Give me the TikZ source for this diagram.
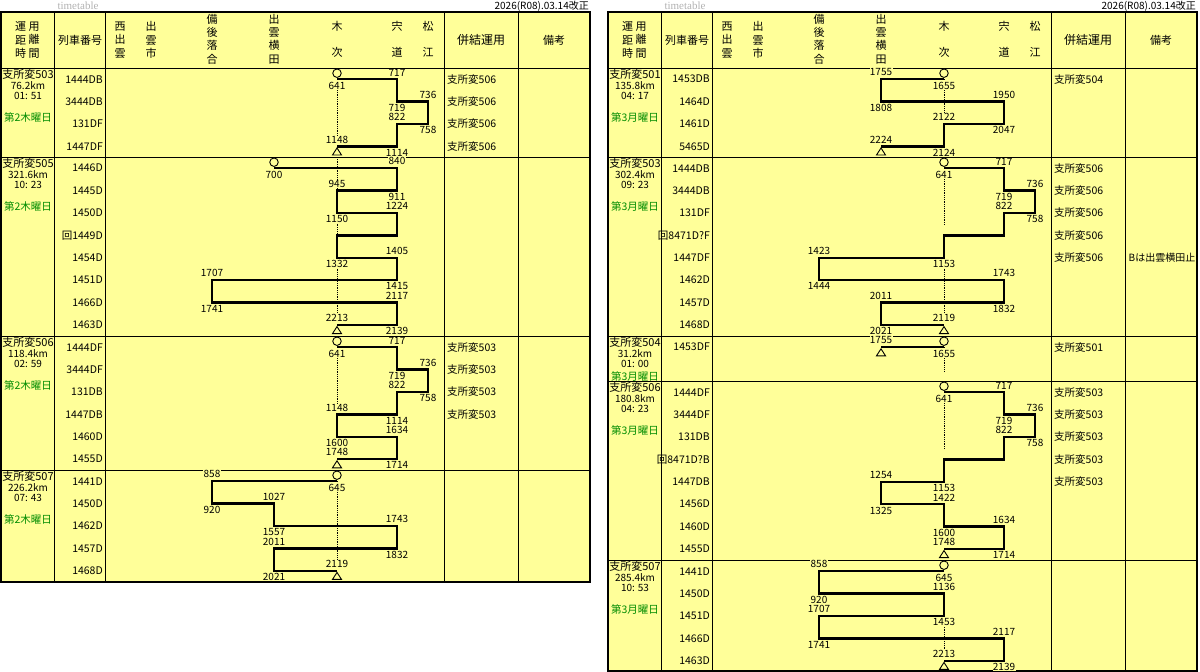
\documentclass[tikz,border=0pt]{standalone}
\usepackage{fontspec}
\setmainfont{Noto Sans CJK JP}
\newfontfamily\serif{Liberation Serif}

\definecolor{bg}{HTML}{FFFF99}
\definecolor{grn}{RGB}{0,140,0}

% station columns (left panel)
\def\BO{212}
\def\YO{274}
\def\KI{337}
\def\SJ{397}
\def\MA{428}

\tikzset{
  route/.style={line width=2.4pt},
  depot/.style={densely dotted, line width=0.8pt},
  tm/.style={font=\fontsize{10}{11}\selectfont, inner sep=0.4pt, fill=bg},
  trno/.style={font=\fontsize{10.5}{12}\selectfont, anchor=east, inner sep=0pt},
  pair/.style={font=\fontsize{10.5}{12}\selectfont, anchor=west, inner sep=0pt},
  unit/.style={font=\fontsize{11}{12}\selectfont, inner sep=0pt},
  small/.style={font=\fontsize{10}{11}\selectfont, inner sep=0pt},
  day/.style={font=\fontsize{10.5}{12}\selectfont, text=grn, inner sep=0pt},
  head/.style={font=\fontsize{11}{13.4}\selectfont, align=center, inner sep=0pt},
  grid/.style={line width=1pt},
  mk/.style={line width=0.9pt, fill=bg},
}

% one leg: row, from, to, departure, arrival
\newcommand{\leg}[5]{%
  \node[tm,below=2pt] at (#2,#1) {#4};
  \node[tm,above=2.5pt] at (#3,#1) {#5};}
\newcommand{\startmark}[1]{\node[mk,draw,circle,minimum size=8.5pt,inner sep=0pt,above=1.3pt] at (#1,.5) {};}
\newcommand{\stopmark}[2]{\draw[mk] (#1,#2) ++(0pt,-1.6pt) -- ++(-4.5pt,-7pt) -- ++(9pt,0pt) -- cycle;}
% unit name, km, time, day, row of day
\newcommand{\unitinfo}[5]{%
  \node[unit] at (28,.27) {#1};
  \node[small] at (28,.78) {#2};
  \node[small] at (28,1.26) {#3};
  \node[day] at (28,#5) {#4};}
% frame: bottom, separators
\newcommand{\panelframe}[2]{%
  \fill[bg] (1,12) rectangle (590,#1);
  \foreach \y in {#2} \draw[grid] (1,\y) -- (590,\y);
  \foreach \x in {54,105,444,518} \draw[grid] (\x,12) -- (\x,#1);
  \draw[line width=1.4pt] (1,12) rectangle (590,#1);
  \node[head] at (20.5,40) {運\\距\\時};
  \node[head] at (34,40) {用\\離\\間};
  \node[head] at (80,40) {列車番号};
  \node[head] at (120,40) {西\\出\\雲};
  \node[head] at (151,40) {出\\雲\\市};
  \node[head] at (212,39) {備\\後\\落\\合};
  \node[head] at (274,39) {出\\雲\\横\\田};
  \node[head] at (\KI,39) {木\\[12.6pt]次};
  \node[head] at (\SJ,39) {宍\\[12.6pt]道};
  \node[head] at (\MA,39) {松\\[12.6pt]江};
  \node[head, font=\fontsize{12}{13.4}\selectfont] at (481,40) {併結運用};
  \node[head] at (554,40) {備考};
  \node[font=\serif\fontsize{11}{12}\selectfont, text=gray!60, inner sep=0pt] at (78,6) {timetable};
  \node[font=\fontsize{10}{12}\selectfont, anchor=east, inner sep=0pt] at (589,6) {2026(R08).03.14改正};}

\begin{document}
\begin{tikzpicture}[x=1pt,y=-1pt]
\useasboundingbox (0,0) rectangle (1200,672);

% ===== left panel =====
\panelframe{582}{68,157,336,470}

% 支所変503
\begin{scope}[yshift=-68pt,y=-22.4pt]
  \unitinfo{支所変503}{76.2km}{01: 51}{第2木曜日}{2.23}
  \foreach \n [count=\i] in {1444DB,3444DB,131DF,1447DF}
    \node[trno] at (103,\i-.5) {\n};
  \foreach \i in {0,...,3} \node[pair] at (447,\i+.5) {支所変506};
  \draw[depot] (\KI,.5) -- (\KI,3);
  \leg{.5}{\KI}{\SJ}{641}{717}
  \leg{1.5}{\SJ}{\MA}{719}{736}
  \leg{2.5}{\MA}{\SJ}{758}{822}
  \leg{3.5}{\SJ}{\KI}{1114}{1148}
  \draw[route] (\KI,.5) -| (\SJ,1.5) -| (\MA,2.5) -| (\SJ,3.5) -- (\KI,3.5);
  \startmark{\KI}
  \stopmark{\KI}{3.5}
\end{scope}

% 支所変505
\begin{scope}[yshift=-157pt,y=-22.4pt]
  \unitinfo{支所変505}{321.6km}{10: 23}{第2木曜日}{2.23}
  \foreach \n [count=\i] in {1446D,1445D,1450D,回1449D,1454D,1451D,1466D,1463D}
    \node[trno] at (103,\i-.5) {\n};
  \draw[depot] (\KI,0) -- (\KI,7);
  \leg{.5}{\YO}{\SJ}{700}{840}
  \leg{1.5}{\SJ}{\KI}{911}{945}
  \leg{2.5}{\KI}{\SJ}{1150}{1224}
  \leg{4.5}{\KI}{\SJ}{1332}{1405}
  \leg{5.5}{\SJ}{\BO}{1415}{1707}
  \leg{6.5}{\BO}{\SJ}{1741}{2117}
  \leg{7.5}{\SJ}{\KI}{2139}{2213}
  \draw[route] (\YO,.5) -| (\SJ,1.5) -| (\KI,2.5) -| (\SJ,3.5) -| (\KI,4.5)
    -| (\SJ,5.5) -| (\BO,6.5) -| (\SJ,7.5) -- (\KI,7.5);
  \startmark{\YO}
  \stopmark{\KI}{7.5}
\end{scope}

% 支所変506
\begin{scope}[yshift=-336pt,y=-22.4pt]
  \unitinfo{支所変506}{118.4km}{02: 59}{第2木曜日}{2.23}
  \foreach \n [count=\i] in {1444DF,3444DF,131DB,1447DB,1460D,1455D}
    \node[trno] at (103,\i-.5) {\n};
  \foreach \i in {0,...,3} \node[pair] at (447,\i+.5) {支所変503};
  \draw[depot] (\KI,.5) -- (\KI,3);
  \leg{.5}{\KI}{\SJ}{641}{717}
  \leg{1.5}{\SJ}{\MA}{719}{736}
  \leg{2.5}{\MA}{\SJ}{758}{822}
  \leg{3.5}{\SJ}{\KI}{1114}{1148}
  \leg{4.5}{\KI}{\SJ}{1600}{1634}
  \leg{5.5}{\SJ}{\KI}{1714}{1748}
  \draw[route] (\KI,.5) -| (\SJ,1.5) -| (\MA,2.5) -| (\SJ,3.5) -| (\KI,4.5)
    -| (\SJ,5.5) -- (\KI,5.5);
  \startmark{\KI}
  \stopmark{\KI}{5.5}
\end{scope}

% 支所変507
\begin{scope}[yshift=-470pt,y=-22.4pt]
  \unitinfo{支所変507}{226.2km}{07: 43}{第2木曜日}{2.23}
  \foreach \n [count=\i] in {1441D,1450D,1462D,1457D,1468D}
    \node[trno] at (103,\i-.5) {\n};
  \draw[depot] (\KI,.5) -- (\KI,4);
  \leg{.5}{\KI}{\BO}{645}{858}
  \leg{1.5}{\BO}{\YO}{920}{1027}
  \leg{2.5}{\YO}{\SJ}{1557}{1743}
  \leg{3.5}{\SJ}{\YO}{1832}{2011}
  \leg{4.5}{\YO}{\KI}{2021}{2119}
  \draw[route] (\KI,.5) -| (\BO,1.5) -| (\YO,2.5) -| (\SJ,3.5) -| (\YO,4.5) -- (\KI,4.5);
  \startmark{\KI}
  \stopmark{\KI}{4.5}
\end{scope}

% ===== right panel =====
\begin{scope}[xshift=607pt]
\panelframe{671}{68,157,336,381,560}

% 支所変501
\begin{scope}[yshift=-68pt,y=-22.4pt]
  \unitinfo{支所変501}{135.8km}{04: 17}{第3月曜日}{2.23}
  \foreach \n [count=\i] in {1453DB,1464D,1461D,5465D}
    \node[trno] at (103,\i-.5) {\n};
  \node[pair] at (447,.5) {支所変504};
  \draw[depot] (\KI,.5) -- (\KI,2);
  \leg{.5}{\KI}{\YO}{1655}{1755}
  \leg{1.5}{\YO}{\SJ}{1808}{1950}
  \leg{2.5}{\SJ}{\KI}{2047}{2122}
  \leg{3.5}{\KI}{\YO}{2124}{2224}
  \draw[route] (\KI,.5) -| (\YO,1.5) -| (\SJ,2.5) -| (\KI,3.5) -- (\YO,3.5);
  \startmark{\KI}
  \stopmark{\YO}{3.5}
\end{scope}

% 支所変503
\begin{scope}[yshift=-157pt,y=-22.4pt]
  \unitinfo{支所変503}{302.4km}{09: 23}{第3月曜日}{2.23}
  \foreach \n [count=\i] in {1444DB,3444DB,131DF,回8471D?F,1447DF,1462D,1457D,1468D}
    \node[trno] at (103,\i-.5) {\n};
  \foreach \i in {0,...,4} \node[pair] at (447,\i+.5) {支所変506};
  \node[small] at (555,4.5) {Bは出雲横田止};
  \draw[depot] (\KI,.5) -- (\KI,3) (\KI,4.5) -- (\KI,7);
  \leg{.5}{\KI}{\SJ}{641}{717}
  \leg{1.5}{\SJ}{\MA}{719}{736}
  \leg{2.5}{\MA}{\SJ}{758}{822}
  \leg{4.5}{\KI}{\BO}{1153}{1423}
  \leg{5.5}{\BO}{\SJ}{1444}{1743}
  \leg{6.5}{\SJ}{\YO}{1832}{2011}
  \leg{7.5}{\YO}{\KI}{2021}{2119}
  \draw[route] (\KI,.5) -| (\SJ,1.5) -| (\MA,2.5) -| (\SJ,3.5) -| (\KI,4.5)
    -| (\BO,5.5) -| (\SJ,6.5) -| (\YO,7.5) -- (\KI,7.5);
  \startmark{\KI}
  \stopmark{\KI}{7.5}
\end{scope}

% 支所変504
\begin{scope}[yshift=-336pt,y=-22.4pt]
  \unitinfo{支所変504}{31.2km}{01: 00}{第3月曜日}{1.79}
  \node[trno] at (103,.5) {1453DF};
  \node[pair] at (447,.5) {支所変501};
  \draw[depot] (\KI,.5) -- (\KI,1.6);
  \leg{.5}{\KI}{\YO}{1655}{1755}
  \draw[route] (\KI,.5) -- (\YO,.5);
  \startmark{\KI}
  \stopmark{\YO}{.5}
\end{scope}

% 支所変506
\begin{scope}[yshift=-381pt,y=-22.4pt]
  \unitinfo{支所変506}{180.8km}{04: 23}{第3月曜日}{2.23}
  \foreach \n [count=\i] in {1444DF,3444DF,131DB,回8471D?B,1447DB,1456D,1460D,1455D}
    \node[trno] at (103,\i-.5) {\n};
  \foreach \i in {0,...,4} \node[pair] at (447,\i+.5) {支所変503};
  \draw[depot] (\KI,.5) -- (\KI,3);
  \leg{.5}{\KI}{\SJ}{641}{717}
  \leg{1.5}{\SJ}{\MA}{719}{736}
  \leg{2.5}{\MA}{\SJ}{758}{822}
  \leg{4.5}{\KI}{\YO}{1153}{1254}
  \leg{5.5}{\YO}{\KI}{1325}{1422}
  \leg{6.5}{\KI}{\SJ}{1600}{1634}
  \leg{7.5}{\SJ}{\KI}{1714}{1748}
  \draw[route] (\KI,.5) -| (\SJ,1.5) -| (\MA,2.5) -| (\SJ,3.5) -| (\KI,4.5)
    -| (\YO,5.5) -| (\KI,6.5) -| (\SJ,7.5) -- (\KI,7.5);
  \startmark{\KI}
  \stopmark{\KI}{7.5}
\end{scope}

% 支所変507
\begin{scope}[yshift=-560pt,y=-22.4pt]
  \unitinfo{支所変507}{285.4km}{10: 53}{第3月曜日}{2.23}
  \foreach \n [count=\i] in {1441D,1450D,1451D,1466D,1463D}
    \node[trno] at (103,\i-.5) {\n};
  \draw[depot] (\KI,2.5) -- (\KI,4);
  \leg{.5}{\KI}{\BO}{645}{858}
  \leg{1.5}{\BO}{\KI}{920}{1136}
  \leg{2.5}{\KI}{\BO}{1453}{1707}
  \leg{3.5}{\BO}{\SJ}{1741}{2117}
  \leg{4.5}{\SJ}{\KI}{2139}{2213}
  \draw[route] (\KI,.5) -| (\BO,1.5) -| (\KI,2.5) -| (\BO,3.5) -| (\SJ,4.5) -- (\KI,4.5);
  \startmark{\KI}
  \stopmark{\KI}{4.5}
\end{scope}
\end{scope}
\end{tikzpicture}
\end{document}
